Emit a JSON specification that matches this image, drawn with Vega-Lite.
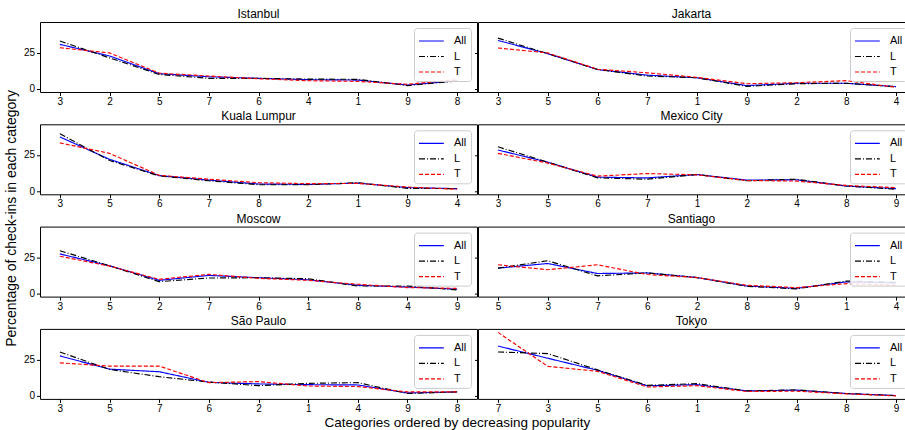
{
"$schema": "https://vega.github.io/schema/vega-lite/v6.json",
"padding": {"left": 4, "top": 7, "right": 0, "bottom": 0},
"background": "white",
"config": {
 "view": {"stroke": "#000", "strokeWidth": 1},
 "axis": {"domain": false, "grid": false, "tickColor": "#000", "tickSize": 3.5, "labelFont": "Liberation Sans", "labelFontSize": 10, "labelColor": "#000", "labelPadding": 2},
 "axisX": {"labelPadding": 1},
 "title": {"font": "Liberation Sans", "fontSize": 12, "fontWeight": "normal", "color": "#000", "offset": 1},
 "style": {"group-title": {"font": "Liberation Sans", "fontSize": 12, "fontWeight": "normal", "color": "#000"}},
 "legend": {"orient": "none", "symbolStrokeWidth": 1.4, "labelFont": "Liberation Sans", "labelFontSize": 11, "labelColor": "#000", "padding": 4, "rowPadding": 1.5, "strokeColor": "#cccccc", "fillColor": "rgba(255,255,255,0.85)", "cornerRadius": 3},
 "line": {"interpolate": "linear", "strokeWidth": 1.15}
},
"datasets": {"d": [
 {"city":"Istanbul","cat":"3","r":1,"All":30.7,"L":33,"T":28.4},
 {"city":"Istanbul","cat":"2","r":2,"All":22.7,"L":21.4,"T":24.8},
 {"city":"Istanbul","cat":"5","r":3,"All":10.5,"L":10,"T":10.9},
 {"city":"Istanbul","cat":"7","r":4,"All":8.4,"L":7.3,"T":8.9},
 {"city":"Istanbul","cat":"6","r":5,"All":7.3,"L":7.3,"T":7},
 {"city":"Istanbul","cat":"4","r":6,"All":6.4,"L":6.8,"T":5.7},
 {"city":"Istanbul","cat":"1","r":7,"All":6.1,"L":6.6,"T":5.2},
 {"city":"Istanbul","cat":"9","r":8,"All":2.7,"L":2.3,"T":3.2},
 {"city":"Istanbul","cat":"8","r":9,"All":5.7,"L":5.5,"T":6.4},
 {"city":"Jakarta","cat":"3","r":1,"All":33.4,"L":35,"T":28.2},
 {"city":"Jakarta","cat":"5","r":2,"All":24.3,"L":24.3,"T":24.8},
 {"city":"Jakarta","cat":"6","r":3,"All":13.4,"L":13.4,"T":13.6},
 {"city":"Jakarta","cat":"7","r":4,"All":9.5,"L":8.9,"T":11.1},
 {"city":"Jakarta","cat":"1","r":5,"All":7.7,"L":7.7,"T":8},
 {"city":"Jakarta","cat":"9","r":6,"All":2.3,"L":1.8,"T":3.6},
 {"city":"Jakarta","cat":"2","r":7,"All":3.9,"L":3.6,"T":4.3},
 {"city":"Jakarta","cat":"8","r":8,"All":3.9,"L":3.9,"T":5.7},
 {"city":"Jakarta","cat":"4","r":9,"All":1.6,"L":1.6,"T":1.1},
 {"city":"Kuala Lumpur","cat":"3","r":1,"All":37.4,"L":39.6,"T":33.3},
 {"city":"Kuala Lumpur","cat":"5","r":2,"All":22,"L":21.2,"T":26.1},
 {"city":"Kuala Lumpur","cat":"6","r":3,"All":10.8,"L":10.6,"T":11},
 {"city":"Kuala Lumpur","cat":"7","r":4,"All":7.7,"L":7.2,"T":8.3},
 {"city":"Kuala Lumpur","cat":"8","r":5,"All":5,"L":4.5,"T":5.9},
 {"city":"Kuala Lumpur","cat":"2","r":6,"All":4.7,"L":4.5,"T":5.2},
 {"city":"Kuala Lumpur","cat":"1","r":7,"All":5.6,"L":5.9,"T":5.4},
 {"city":"Kuala Lumpur","cat":"9","r":8,"All":2.5,"L":2,"T":2.9},
 {"city":"Kuala Lumpur","cat":"4","r":9,"All":1.8,"L":1.8,"T":1.4},
 {"city":"Mexico City","cat":"3","r":1,"All":28.4,"L":30.6,"T":26.1},
 {"city":"Mexico City","cat":"5","r":2,"All":20,"L":20,"T":19.4},
 {"city":"Mexico City","cat":"6","r":3,"All":9.7,"L":9.2,"T":10.4},
 {"city":"Mexico City","cat":"7","r":4,"All":9.2,"L":8.3,"T":12.2},
 {"city":"Mexico City","cat":"1","r":5,"All":11.5,"L":11.5,"T":11.3},
 {"city":"Mexico City","cat":"2","r":6,"All":7.7,"L":7.2,"T":7.4},
 {"city":"Mexico City","cat":"4","r":7,"All":7.9,"L":8.3,"T":7},
 {"city":"Mexico City","cat":"8","r":8,"All":3.6,"L":3.6,"T":4},
 {"city":"Mexico City","cat":"9","r":9,"All":1.8,"L":1.4,"T":2.5},
 {"city":"Moscow","cat":"3","r":1,"All":27.3,"L":29.5,"T":25.7},
 {"city":"Moscow","cat":"5","r":2,"All":19.1,"L":19.1,"T":18.9},
 {"city":"Moscow","cat":"2","r":3,"All":9.1,"L":8.2,"T":9.8},
 {"city":"Moscow","cat":"7","r":4,"All":12.5,"L":10.7,"T":13.2},
 {"city":"Moscow","cat":"6","r":5,"All":10.9,"L":10.9,"T":10.5},
 {"city":"Moscow","cat":"1","r":6,"All":9.5,"L":10.2,"T":9.1},
 {"city":"Moscow","cat":"8","r":7,"All":5.7,"L":5.2,"T":6.4},
 {"city":"Moscow","cat":"4","r":8,"All":4.5,"L":5.2,"T":4.1},
 {"city":"Moscow","cat":"9","r":9,"All":3,"L":2.5,"T":3.6},
 {"city":"Santiago","cat":"5","r":1,"All":17.5,"L":17.5,"T":19.8},
 {"city":"Santiago","cat":"3","r":2,"All":20.7,"L":22.6,"T":16.4},
 {"city":"Santiago","cat":"7","r":3,"All":13.8,"L":12.2,"T":19.8},
 {"city":"Santiago","cat":"6","r":4,"All":14.2,"L":14.2,"T":13.1},
 {"city":"Santiago","cat":"2","r":5,"All":11,"L":11,"T":11},
 {"city":"Santiago","cat":"8","r":6,"All":5.2,"L":5,"T":5.7},
 {"city":"Santiago","cat":"9","r":7,"All":3.6,"L":3.2,"T":4.1},
 {"city":"Santiago","cat":"1","r":8,"All":8,"L":8.6,"T":6.8},
 {"city":"Santiago","cat":"4","r":9,"All":7.3,"L":7.8,"T":5.7},
 {"city":"São Paulo","cat":"3","r":1,"All":27.5,"L":30.2,"T":22.7},
 {"city":"São Paulo","cat":"5","r":2,"All":18.4,"L":18.2,"T":20.5},
 {"city":"São Paulo","cat":"7","r":3,"All":16.6,"L":13.2,"T":20.5},
 {"city":"São Paulo","cat":"6","r":4,"All":9.3,"L":9.5,"T":9.1},
 {"city":"São Paulo","cat":"2","r":5,"All":8.2,"L":7,"T":9.8},
 {"city":"São Paulo","cat":"1","r":6,"All":7.7,"L":8.6,"T":6.8},
 {"city":"São Paulo","cat":"4","r":7,"All":7.5,"L":9.1,"T":6.4},
 {"city":"São Paulo","cat":"9","r":8,"All":2,"L":1.6,"T":2.7},
 {"city":"São Paulo","cat":"8","r":9,"All":2.7,"L":2.7,"T":2.7},
 {"city":"Tokyo","cat":"7","r":1,"All":34.3,"L":30.2,"T":43.7},
 {"city":"Tokyo","cat":"3","r":2,"All":25.9,"L":29.1,"T":20.3},
 {"city":"Tokyo","cat":"5","r":3,"All":17.6,"L":17.9,"T":16.9},
 {"city":"Tokyo","cat":"6","r":4,"All":6.9,"L":7.2,"T":6.1},
 {"city":"Tokyo","cat":"1","r":5,"All":7.7,"L":8.4,"T":7},
 {"city":"Tokyo","cat":"2","r":6,"All":3.4,"L":3.4,"T":3},
 {"city":"Tokyo","cat":"4","r":7,"All":3.9,"L":4.1,"T":3.2},
 {"city":"Tokyo","cat":"8","r":8,"All":1.6,"L":1.6,"T":1.4},
 {"city":"Tokyo","cat":"9","r":9,"All":0.2,"L":0.2,"T":0}
]},
"title": {"text": "Percentage of check-ins in each category", "orient": "left", "anchor": "middle", "fontSize": 14, "fontWeight": "normal", "offset": 4},
"resolve": {"scale": {"color": "independent", "strokeDash": "independent"}, "legend": {"color": "independent", "strokeDash": "independent"}},
"vconcat": [{
 "title": {"text": "Categories ordered by decreasing popularity", "orient": "bottom", "anchor": "middle", "fontSize": 13.5, "fontWeight": "normal", "offset": 2, "dx": -8},
 "columns": 2,
 "spacing": {"row": 2.3, "column": -5},
 "resolve": {"scale": {"color": "independent", "strokeDash": "independent"}, "legend": {"color": "independent", "strokeDash": "independent"}},
 "concat": [
  {"title": "Istanbul", "width": 437, "height": 70, "data": {"name": "d"},
   "transform": [{"filter": "datum.city === 'Istanbul'"}, {"fold": ["All","L","T"], "as": ["series","value"]}],
   "mark": "line",
   "encoding": {
    "x": {"field": "cat", "type": "ordinal", "sort": {"field": "r", "op": "min"}, "scale": {"type": "point", "padding": 0.4}, "axis": {"title": null, "labelAngle": 0}},
    "y": {"field": "value", "type": "quantitative", "scale": {"domain": [-2.1, 46.1], "nice": false, "zero": false}, "axis": {"title": null, "values": [0, 25]}},
    "order": {"field": "r"},
    "color": {"field": "series", "type": "nominal", "scale": {"domain": ["All","L","T"], "range": ["#0000ff","#000000","#ff0000"]}, "legend": {"title": null, "legendX": 374, "legendY": 6, "symbolType": "M-1,0H2.1", "symbolSize": 256, "labelOffset": 18, "encode": {"symbols": {"update": {"strokeDash": {"signal": "datum.value === 'L' ? [6,2,1,2] : datum.value === 'T' ? [4,2] : [1,0]"}}}}}},
    "strokeDash": {"field": "series", "type": "nominal", "scale": {"domain": ["All","L","T"], "range": [[1,0],[6,2,1,2],[4,2]]}, "legend": null}
   }},
  {"title": "Jakarta", "width": 427, "height": 70, "data": {"name": "d"},
   "transform": [{"filter": "datum.city === 'Jakarta'"}, {"fold": ["All","L","T"], "as": ["series","value"]}],
   "mark": "line",
   "encoding": {
    "x": {"field": "cat", "type": "ordinal", "sort": {"field": "r", "op": "min"}, "scale": {"type": "point", "padding": 0.2915, "align": 0.69}, "axis": {"title": null, "labelAngle": 0}},
    "y": {"field": "value", "type": "quantitative", "scale": {"domain": [-2.1, 46.1], "nice": false, "zero": false}, "axis": {"title": null, "values": [0, 25], "labels": false}},
    "order": {"field": "r"},
    "color": {"field": "series", "type": "nominal", "scale": {"domain": ["All","L","T"], "range": ["#0000ff","#000000","#ff0000"]}, "legend": {"title": null, "legendX": 372, "legendY": 6, "symbolType": "M-1,0H2.1", "symbolSize": 256, "labelOffset": 18, "encode": {"symbols": {"update": {"strokeDash": {"signal": "datum.value === 'L' ? [6,2,1,2] : datum.value === 'T' ? [4,2] : [1,0]"}}}}}},
    "strokeDash": {"field": "series", "type": "nominal", "scale": {"domain": ["All","L","T"], "range": [[1,0],[6,2,1,2],[4,2]]}, "legend": null}
   }},
  {"title": "Kuala Lumpur", "width": 437, "height": 70, "data": {"name": "d"},
   "transform": [{"filter": "datum.city === 'Kuala Lumpur'"}, {"fold": ["All","L","T"], "as": ["series","value"]}],
   "mark": "line",
   "encoding": {
    "x": {"field": "cat", "type": "ordinal", "sort": {"field": "r", "op": "min"}, "scale": {"type": "point", "padding": 0.4}, "axis": {"title": null, "labelAngle": 0}},
    "y": {"field": "value", "type": "quantitative", "scale": {"domain": [-2.1, 46.1], "nice": false, "zero": false}, "axis": {"title": null, "values": [0, 25]}},
    "order": {"field": "r"},
    "color": {"field": "series", "type": "nominal", "scale": {"domain": ["All","L","T"], "range": ["#0000ff","#000000","#ff0000"]}, "legend": {"title": null, "legendX": 374, "legendY": 6, "symbolType": "M-1,0H2.1", "symbolSize": 256, "labelOffset": 18, "encode": {"symbols": {"update": {"strokeDash": {"signal": "datum.value === 'L' ? [6,2,1,2] : datum.value === 'T' ? [4,2] : [1,0]"}}}}}},
    "strokeDash": {"field": "series", "type": "nominal", "scale": {"domain": ["All","L","T"], "range": [[1,0],[6,2,1,2],[4,2]]}, "legend": null}
   }},
  {"title": "Mexico City", "width": 427, "height": 70, "data": {"name": "d"},
   "transform": [{"filter": "datum.city === 'Mexico City'"}, {"fold": ["All","L","T"], "as": ["series","value"]}],
   "mark": "line",
   "encoding": {
    "x": {"field": "cat", "type": "ordinal", "sort": {"field": "r", "op": "min"}, "scale": {"type": "point", "padding": 0.2915, "align": 0.69}, "axis": {"title": null, "labelAngle": 0}},
    "y": {"field": "value", "type": "quantitative", "scale": {"domain": [-2.1, 46.1], "nice": false, "zero": false}, "axis": {"title": null, "values": [0, 25], "labels": false}},
    "order": {"field": "r"},
    "color": {"field": "series", "type": "nominal", "scale": {"domain": ["All","L","T"], "range": ["#0000ff","#000000","#ff0000"]}, "legend": {"title": null, "legendX": 372, "legendY": 6, "symbolType": "M-1,0H2.1", "symbolSize": 256, "labelOffset": 18, "encode": {"symbols": {"update": {"strokeDash": {"signal": "datum.value === 'L' ? [6,2,1,2] : datum.value === 'T' ? [4,2] : [1,0]"}}}}}},
    "strokeDash": {"field": "series", "type": "nominal", "scale": {"domain": ["All","L","T"], "range": [[1,0],[6,2,1,2],[4,2]]}, "legend": null}
   }},
  {"title": "Moscow", "width": 437, "height": 70, "data": {"name": "d"},
   "transform": [{"filter": "datum.city === 'Moscow'"}, {"fold": ["All","L","T"], "as": ["series","value"]}],
   "mark": "line",
   "encoding": {
    "x": {"field": "cat", "type": "ordinal", "sort": {"field": "r", "op": "min"}, "scale": {"type": "point", "padding": 0.4}, "axis": {"title": null, "labelAngle": 0}},
    "y": {"field": "value", "type": "quantitative", "scale": {"domain": [-2.1, 46.1], "nice": false, "zero": false}, "axis": {"title": null, "values": [0, 25]}},
    "order": {"field": "r"},
    "color": {"field": "series", "type": "nominal", "scale": {"domain": ["All","L","T"], "range": ["#0000ff","#000000","#ff0000"]}, "legend": {"title": null, "legendX": 374, "legendY": 6, "symbolType": "M-1,0H2.1", "symbolSize": 256, "labelOffset": 18, "encode": {"symbols": {"update": {"strokeDash": {"signal": "datum.value === 'L' ? [6,2,1,2] : datum.value === 'T' ? [4,2] : [1,0]"}}}}}},
    "strokeDash": {"field": "series", "type": "nominal", "scale": {"domain": ["All","L","T"], "range": [[1,0],[6,2,1,2],[4,2]]}, "legend": null}
   }},
  {"title": "Santiago", "width": 427, "height": 70, "data": {"name": "d"},
   "transform": [{"filter": "datum.city === 'Santiago'"}, {"fold": ["All","L","T"], "as": ["series","value"]}],
   "mark": "line",
   "encoding": {
    "x": {"field": "cat", "type": "ordinal", "sort": {"field": "r", "op": "min"}, "scale": {"type": "point", "padding": 0.2915, "align": 0.69}, "axis": {"title": null, "labelAngle": 0}},
    "y": {"field": "value", "type": "quantitative", "scale": {"domain": [-2.1, 46.1], "nice": false, "zero": false}, "axis": {"title": null, "values": [0, 25], "labels": false}},
    "order": {"field": "r"},
    "color": {"field": "series", "type": "nominal", "scale": {"domain": ["All","L","T"], "range": ["#0000ff","#000000","#ff0000"]}, "legend": {"title": null, "legendX": 372, "legendY": 6, "symbolType": "M-1,0H2.1", "symbolSize": 256, "labelOffset": 18, "encode": {"symbols": {"update": {"strokeDash": {"signal": "datum.value === 'L' ? [6,2,1,2] : datum.value === 'T' ? [4,2] : [1,0]"}}}}}},
    "strokeDash": {"field": "series", "type": "nominal", "scale": {"domain": ["All","L","T"], "range": [[1,0],[6,2,1,2],[4,2]]}, "legend": null}
   }},
  {"title": "São Paulo", "width": 437, "height": 70, "data": {"name": "d"},
   "transform": [{"filter": "datum.city === 'São Paulo'"}, {"fold": ["All","L","T"], "as": ["series","value"]}],
   "mark": "line",
   "encoding": {
    "x": {"field": "cat", "type": "ordinal", "sort": {"field": "r", "op": "min"}, "scale": {"type": "point", "padding": 0.4}, "axis": {"title": null, "labelAngle": 0}},
    "y": {"field": "value", "type": "quantitative", "scale": {"domain": [-2.1, 46.1], "nice": false, "zero": false}, "axis": {"title": null, "values": [0, 25]}},
    "order": {"field": "r"},
    "color": {"field": "series", "type": "nominal", "scale": {"domain": ["All","L","T"], "range": ["#0000ff","#000000","#ff0000"]}, "legend": {"title": null, "legendX": 374, "legendY": 6, "symbolType": "M-1,0H2.1", "symbolSize": 256, "labelOffset": 18, "encode": {"symbols": {"update": {"strokeDash": {"signal": "datum.value === 'L' ? [6,2,1,2] : datum.value === 'T' ? [4,2] : [1,0]"}}}}}},
    "strokeDash": {"field": "series", "type": "nominal", "scale": {"domain": ["All","L","T"], "range": [[1,0],[6,2,1,2],[4,2]]}, "legend": null}
   }},
  {"title": "Tokyo", "width": 427, "height": 70, "data": {"name": "d"},
   "transform": [{"filter": "datum.city === 'Tokyo'"}, {"fold": ["All","L","T"], "as": ["series","value"]}],
   "mark": "line",
   "encoding": {
    "x": {"field": "cat", "type": "ordinal", "sort": {"field": "r", "op": "min"}, "scale": {"type": "point", "padding": 0.2915, "align": 0.69}, "axis": {"title": null, "labelAngle": 0}},
    "y": {"field": "value", "type": "quantitative", "scale": {"domain": [-2.1, 46.1], "nice": false, "zero": false}, "axis": {"title": null, "values": [0, 25], "labels": false}},
    "order": {"field": "r"},
    "color": {"field": "series", "type": "nominal", "scale": {"domain": ["All","L","T"], "range": ["#0000ff","#000000","#ff0000"]}, "legend": {"title": null, "legendX": 372, "legendY": 6, "symbolType": "M-1,0H2.1", "symbolSize": 256, "labelOffset": 18, "encode": {"symbols": {"update": {"strokeDash": {"signal": "datum.value === 'L' ? [6,2,1,2] : datum.value === 'T' ? [4,2] : [1,0]"}}}}}},
    "strokeDash": {"field": "series", "type": "nominal", "scale": {"domain": ["All","L","T"], "range": [[1,0],[6,2,1,2],[4,2]]}, "legend": null}
   }}
 ]
}]
}
